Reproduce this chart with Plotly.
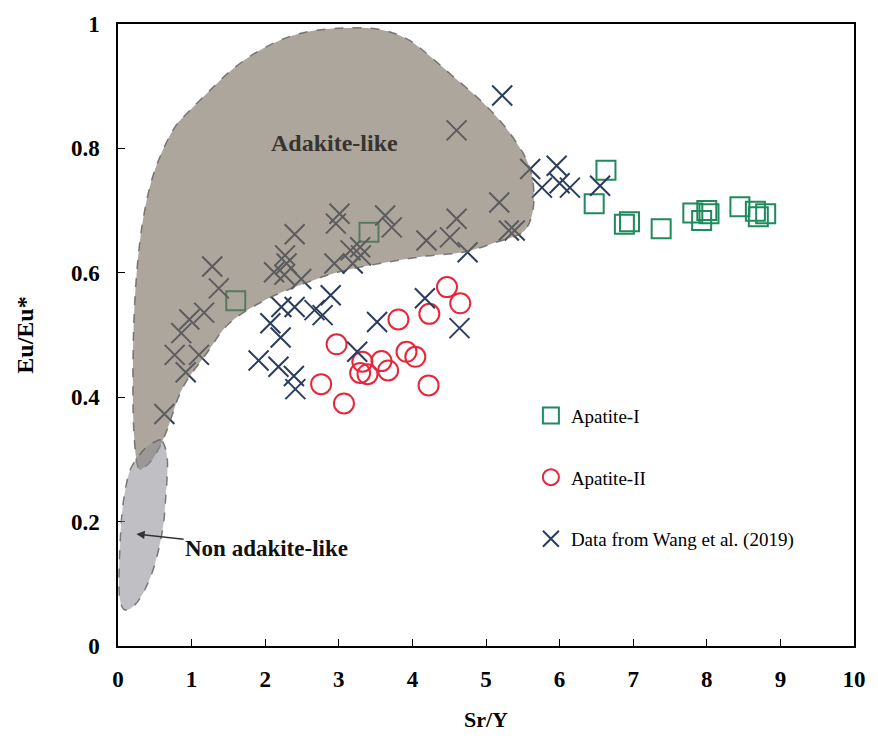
import plotly.graph_objects as go

# Apatite-I (squares)
ap1_x = [1.60, 3.41, 6.47, 6.63, 6.88, 6.95, 7.38, 7.81, 7.93, 8.00, 8.03, 8.45, 8.66, 8.70, 8.80]
ap1_y = [0.555, 0.665, 0.711, 0.765, 0.678, 0.682, 0.671, 0.696, 0.684, 0.700, 0.695, 0.706, 0.699, 0.690, 0.695]

# Apatite-II (circles)
ap2_x = [4.47, 4.65, 4.23, 3.81, 2.97, 3.92, 4.04, 3.32, 3.58, 3.67, 3.29, 3.39, 2.76, 4.22, 3.07]
ap2_y = [0.577, 0.551, 0.534, 0.525, 0.485, 0.473, 0.465, 0.457, 0.458, 0.443, 0.439, 0.437, 0.421, 0.419, 0.390]

# Data from Wang et al. (2019)
wang_x = [0.63, 0.77, 0.92, 1.10, 0.86, 0.97, 1.17, 1.37, 1.28, 2.40, 2.27, 2.29, 2.12, 2.26, 2.49,
          3.01, 2.96, 2.94, 3.16, 3.19, 3.30, 3.29, 3.63, 3.72, 4.19, 4.51, 4.60, 5.18, 5.31, 5.39,
          5.60, 5.76, 5.96, 6.00, 6.14, 6.55, 5.22, 4.60, 4.75, 2.89, 2.40, 2.22, 2.67, 2.78, 2.07,
          2.21, 4.17, 3.52, 4.64, 3.25, 1.91, 2.18, 2.39, 2.41]
wang_y = [0.373, 0.468, 0.440, 0.468, 0.503, 0.525, 0.536, 0.575, 0.610, 0.662, 0.628, 0.615, 0.601, 0.597, 0.590,
          0.695, 0.679, 0.615, 0.636, 0.615, 0.628, 0.641, 0.692, 0.673, 0.652, 0.657, 0.687, 0.713, 0.668, 0.668,
          0.767, 0.737, 0.772, 0.744, 0.737, 0.740, 0.885, 0.829, 0.633, 0.564, 0.545, 0.545, 0.540, 0.532, 0.519,
          0.496, 0.559, 0.521, 0.511, 0.473, 0.459, 0.449, 0.434, 0.413]

# Adakite-like field boundary
adak_x = [0.269, 0.215, 0.202, 0.215, 0.255, 0.323, 0.430, 0.565, 0.766, 0.968, 1.237, 1.573, 1.976, 2.446,
          2.984, 3.522, 3.925, 4.220, 4.530, 4.892, 5.202, 5.444, 5.578, 5.645, 5.632, 5.497, 5.134, 4.691, 4.194,
          3.656, 2.984, 2.406, 1.949, 1.505, 1.196, 0.874, 0.659, 0.497, 0.363]
adak_y = [0.288, 0.345, 0.425, 0.521, 0.601, 0.673, 0.737, 0.785, 0.833, 0.860, 0.892, 0.929, 0.961, 0.984,
          0.993, 0.992, 0.976, 0.950, 0.918, 0.881, 0.843, 0.804, 0.774, 0.740, 0.697, 0.665, 0.649, 0.633, 0.627,
          0.617, 0.601, 0.577, 0.553, 0.518, 0.469, 0.414, 0.345, 0.305, 0.288]

# Non adakite-like field boundary
non_x = [0.605, 0.672, 0.645, 0.605, 0.497, 0.363, 0.228, 0.094, 0.027, 0.013, 0.027, 0.054, 0.108, 0.188, 0.363, 0.497]
non_y = [0.329, 0.297, 0.233, 0.186, 0.130, 0.090, 0.066, 0.058, 0.074, 0.106, 0.162, 0.213, 0.257, 0.289, 0.317, 0.328]

# tick labels
x_ticks = [0, 1, 2, 3, 4, 5, 6, 7, 8, 9, 10]
y_ticks = [0, 0.2, 0.4, 0.6, 0.8, 1.0]
y_ticktext = ["0", "0.2", "0.4", "0.6", "0.8", "1"]

FONT = "Liberation Serif"


def smooth_closed_path(xs, ys, t=1.0):
    """Closed Catmull-Rom curve through the boundary points, as an SVG path in data units."""
    n = len(xs)
    parts = [f"M {xs[0]},{ys[0]}"]
    for i in range(n):
        p0 = (xs[(i - 1) % n], ys[(i - 1) % n])
        p1 = (xs[i], ys[i])
        p2 = (xs[(i + 1) % n], ys[(i + 1) % n])
        p3 = (xs[(i + 2) % n], ys[(i + 2) % n])
        c1 = (p1[0] + (p2[0] - p0[0]) * t / 6, p1[1] + (p2[1] - p0[1]) * t / 6)
        c2 = (p2[0] - (p3[0] - p1[0]) * t / 6, p2[1] - (p3[1] - p1[1]) * t / 6)
        parts.append(f"C {c1[0]},{c1[1]} {c2[0]},{c2[1]} {p2[0]},{p2[1]}")
    return " ".join(parts) + " Z"


fig = go.Figure()

fig.add_trace(go.Scatter(x=ap1_x, y=ap1_y, mode="markers", name="Apatite-I", legendgroup="a",
                         marker=dict(symbol="square-open", size=19, color="#1f8a5c", line=dict(width=2, color="#1f8a5c"))))
fig.add_trace(go.Scatter(x=ap2_x, y=ap2_y, mode="markers", name="Apatite-II", legendgroup="b",
                         marker=dict(symbol="circle-open", size=20, color="#e8263a", line=dict(width=2, color="#e8263a"))))
fig.add_trace(go.Scatter(x=wang_x, y=wang_y, mode="markers", name="Data from Wang et al. (2019)", legendgroup="c",
                         marker=dict(symbol="x-thin-open", size=20, color="#2b3d5e", line=dict(width=2, color="#2b3d5e"))))

# fields drawn above the points (semi-transparent), as in the original figure
fig.add_shape(type="path", xref="x", yref="y", layer="above", path=smooth_closed_path(adak_x, adak_y),
              fillcolor="rgba(123,111,95,0.62)", line=dict(color="rgba(95,95,95,0.8)", width=1.5, dash="dash"))
fig.add_shape(type="path", xref="x", yref="y", layer="above", path=smooth_closed_path(non_x, non_y),
              fillcolor="rgba(140,140,148,0.55)", line=dict(color="rgba(95,95,95,0.8)", width=1.5, dash="dash"))

fig.add_annotation(x=2.94, y=0.809, text="<b>Adakite-like</b>", showarrow=False,
                   font=dict(family=FONT, size=24, color="#38342f"))
fig.add_annotation(x=0.25, y=0.18, ax=2.02, ay=0.157, axref="x", ayref="y",
                   text="<b>Non adakite-like</b>", showarrow=True, arrowhead=2, arrowsize=1.1,
                   arrowwidth=1.5, arrowcolor="#333333", font=dict(family=FONT, size=23, color="#111111"))

axis_common = dict(showline=True, linecolor="black", linewidth=1.5, mirror=True, ticks="inside",
                   ticklen=7, tickwidth=1, tickcolor="black", showgrid=False, zeroline=False,
                   tickfont=dict(family=FONT, size=23, color="black", weight="bold"), ticklabelstandoff=12)

fig.update_xaxes(range=[0, 10], tickvals=x_ticks, tickformat="d",
                 title=dict(text="<b>Sr/Y</b>", font=dict(family=FONT, size=22, color="black"), standoff=20),
                 **axis_common)
fig.update_yaxes(range=[0, 1], tickvals=y_ticks, ticktext=y_ticktext,
                 title=dict(text="<b>Eu/Eu*</b>", font=dict(family=FONT, size=24, color="black"), standoff=31),
                 **axis_common)

fig.update_layout(
    width=878, height=743, margin=dict(l=118, r=16, t=21, b=97),
    paper_bgcolor="white", plot_bgcolor="white",
    font=dict(family=FONT, color="black"),
    legend=dict(x=0.561, y=0.401, xanchor="left", yanchor="top", tracegroupgap=34,
                font=dict(family=FONT, size=19, color="black"), bgcolor="rgba(0,0,0,0)"),
)

fig.write_html("out.html")
